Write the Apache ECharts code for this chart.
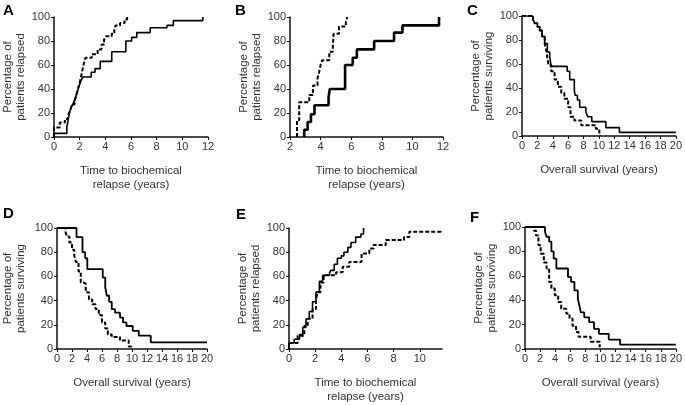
<!DOCTYPE html>
<html>
<head>
<meta charset="utf-8">
<script src="https://cdn.jsdelivr.net/npm/echarts@6/dist/echarts.min.js"></script>
<style>
  html, body { margin: 0; padding: 0; background: #fff; }
  #chart { width: 685px; height: 405px; }
</style>
</head>
<body>
<div id="chart"></div>
<script>
// step curves, [time (years), percent]
var aSolid = [[0,0],[0,3],[1.0,8],[1.1,14],[1.2,20],[1.35,25],[1.5,28],[1.65,32],[1.8,37],[1.95,42],[2.1,47],[2.25,50],
  [2.9,54],[3.2,57],[3.6,63],[4.5,71],[5.6,80],[6.05,83],[6.45,87],[7.5,91],[8.8,93],[9.3,97],[11.6,100]];
var aDashed = [[0,0],[0,8],[0.45,12],[0.85,15],[1.1,18],[1.25,22],[1.4,27],[1.6,30],[1.75,35],[1.85,40],[2.0,45],[2.1,50],
  [2.2,55],[2.3,60],[2.45,66],[2.95,69],[3.4,73],[3.7,77],[3.9,81],[4.05,84],[4.5,86],[4.7,90],[4.8,93],[5.15,95],[5.5,98],[5.7,100]];

var bSolid = [[2.93,0],[2.93,6],[3.15,12.5],[3.37,19],[3.6,26.5],[4.52,33],[4.6,40],[5.6,60],[6.1,66],[6.37,73],
  [7.5,80],[8.8,87],[9.35,93],[11.74,100]];
var bDashed = [[2.46,0],[2.46,14],[2.6,29],[3.26,35],[3.5,43],[3.8,49],[3.9,54],[4.0,60],[4.1,64],[4.57,71],[4.8,76],
  [4.85,86],[5.2,92],[5.65,96],[5.75,100]];

var cSolid = [[0,100],[1.43,97],[1.64,94],[2.0,91],[2.3,88],[2.6,83],[2.95,77],[3.3,70],[3.6,66],[3.8,58],[5.87,54],
  [6.2,47],[6.8,38],[6.9,34],[7.2,30],[7.5,24],[8.3,20],[8.55,16],[9.07,12],[10.9,7],[12.66,3],[20,3]];
var cDashed = [[0,100],[1.43,97],[1.64,94],[2.0,91],[2.3,88],[2.6,83],[2.95,77],[3.2,70],[3.3,65],[3.45,59],[3.8,54],
  [4.23,47],[4.66,41],[5.1,36],[5.5,31],[6.0,24],[6.3,16],[6.8,13],[7.7,9],[9.6,6],[10.05,2],[10.15,0]];

var dSolid = [[0,100],[2.6,92.5],[3.4,80],[3.75,75],[4.04,66],[6.1,59],[6.43,51],[6.65,44],[6.95,39],[7.3,33],[7.74,30],
  [8.4,26],[8.8,22],[9.26,19],[10.1,15],[10.9,11],[12.5,5.5],[20,5.5]];
var dDashed = [[0,100],[1.13,97],[1.3,93],[1.65,88],[2.0,82],[2.3,77],[2.52,72],[2.87,64],[3.17,55],[3.5,54],[3.83,47],
  [4.26,41],[4.7,37],[5.13,33],[5.57,28],[6.0,22],[6.43,17],[6.78,12],[7.3,10],[8.4,7],[9.56,2],[9.9,0]];

var eSolid = [[0,0],[0,5],[0.4,8],[0.8,12],[1.05,18],[1.3,25],[1.55,31],[1.8,39],[2.06,47],[2.32,56],[2.57,61],[3.1,63],
  [3.2,65],[3.46,70],[3.7,75],[4.0,77],[4.2,80],[4.5,84],[4.74,88],[5.1,92.5],[5.5,95],[5.7,100]];
var eDashed = [[0,0],[0,5],[0.66,11],[1.17,19],[1.43,25],[1.8,33],[2.06,41],[2.2,47],[2.4,55],[2.65,61],[3.6,63.5],
  [4.1,68],[4.6,72],[5.55,79],[6.14,83],[6.47,86],[7.4,90],[8.8,92.5],[9.2,97],[11.6,99]];

var fSolid = [[0,100],[2.65,96],[2.86,92],[3.2,88],[3.5,80],[3.8,74],[4.16,66],[5.7,59],[6.1,55],[6.55,48],[7.0,41],
  [7.2,36],[7.4,30],[7.85,26],[8.5,22],[9.15,16.5],[9.8,12.4],[11.1,7.7],[12.6,3.6],[20,3.6]];
var fDashed = [[0,100],[1.2,97],[1.47,93],[1.78,85],[2.08,78],[2.5,71],[2.86,66],[3.2,55],[3.5,49.5],[3.95,44],[4.4,38.5],
  [4.8,33],[5.47,29],[5.9,25],[6.3,19],[6.77,14],[7.1,10],[8.7,6],[9.9,1.4]];

var yTicks = [0, 20, 40, 60, 80, 100];
var relapseTicks = [0, 2, 4, 6, 8, 10, 12];
var relapseTicksB = [2, 4, 6, 8, 10, 12];
var relapseTicksE = [0, 2, 4, 6, 8, 10];
var survivalTicks = [0, 2, 4, 6, 8, 10, 12, 14, 16, 18, 20];

var relapsedName = "Percentage of\npatients relapsed";
var survivingName = "Percentage of\npatients surviving";
var relapseName = "Time to biochemical\nrelapse (years)";
var survivalName = "Overall survival (years)";

var panels = [
  { letter: "A", lx: 3, ly: 3, left: 54, top: 17, width: 154, height: 120, min: 0, max: 12, xt: relapseTicks,
    xName: relapseName, yName: relapsedName, yGap: 26, solid: aSolid, dashed: aDashed, sw: 1.6 },
  { letter: "B", lx: 235, ly: 3, left: 290, top: 17, width: 153, height: 120, min: 2, max: 12, xt: relapseTicksB,
    xName: relapseName, yName: relapsedName, yGap: 27, solid: bSolid, dashed: bDashed, sw: 2.6 },
  { letter: "C", lx: 467, ly: 3, left: 522, top: 16, width: 154, height: 120, min: 0, max: 20, xt: survivalTicks,
    xName: survivalName, yName: survivingName, yGap: 22, solid: cSolid, dashed: cDashed, sw: 1.6 },
  { letter: "D", lx: 3, ly: 206, left: 54, top: 228, width: 153, height: 121, min: 0, max: 20, xt: survivalTicks,
    xName: survivalName, yName: survivingName, yGap: 30, solid: dSolid, dashed: dDashed, sw: 1.8 },
  { letter: "E", lx: 236, ly: 207, left: 289, top: 228, width: 153, height: 121, min: 0, max: 11.7, xt: relapseTicksE,
    xName: relapseName, yName: relapsedName, yGap: 24, solid: eSolid, dashed: eDashed, sw: 1.6 },
  { letter: "F", lx: 470, ly: 210, left: 525, top: 227, width: 152, height: 122, min: 0, max: 20, xt: survivalTicks,
    xName: survivalName, yName: survivingName, yGap: 26, solid: fSolid, dashed: fDashed, sw: 1.8 }
];

var font = "Liberation Sans, Arial, Helvetica, sans-serif";
var grids = [], xAxes = [], yAxes = [], series = [], letters = [];

panels.forEach(function (p, i) {
  grids.push({ left: p.left, top: p.top, width: p.width, height: p.height, containLabel: false });
  xAxes.push({
    type: "value", gridIndex: i, min: p.min, max: p.max, interval: 2,
    name: p.xName, nameLocation: "middle", nameGap: 27,
    nameTextStyle: { color: "#333", fontSize: 11.5, fontFamily: font, lineHeight: 14 },
    axisLine: { show: true, onZero: false, lineStyle: { color: "#111", width: 1.5 } },
    axisTick: { show: true, length: 3, customValues: p.xt, lineStyle: { color: "#111", width: 1 } },
    axisLabel: { customValues: p.xt, margin: 4, color: "#333", fontSize: 11, fontFamily: font },
    splitLine: { show: false }
  });
  yAxes.push({
    type: "value", gridIndex: i, min: 0, max: 100, interval: 20,
    name: p.yName, nameLocation: "middle", nameGap: p.yGap,
    nameTextStyle: { color: "#333", fontSize: 11.5, fontFamily: font, lineHeight: 13 },
    axisLine: { show: true, lineStyle: { color: "#111", width: 1.5 } },
    axisTick: { show: true, length: 3, lineStyle: { color: "#111", width: 1 } },
    axisLabel: { margin: 4, color: "#333", fontSize: 11, fontFamily: font },
    splitLine: { show: false }
  });
  series.push({
    type: "line", xAxisIndex: i, yAxisIndex: i, step: "end", data: p.solid,
    showSymbol: false, symbol: "none", silent: true, animation: false,
    lineStyle: { color: "#000", width: p.sw, type: "solid" }
  });
  series.push({
    type: "line", xAxisIndex: i, yAxisIndex: i, step: "end", data: p.dashed,
    showSymbol: false, symbol: "none", silent: true, animation: false,
    lineStyle: { color: "#000", width: 2, type: [4, 2] }
  });
  letters.push({
    type: "text", left: p.lx, top: p.ly,
    style: { text: p.letter, fill: "#000", font: "bold 15px " + font }
  });
});

var myChart = echarts.init(document.getElementById("chart"), null, { renderer: "canvas" });
myChart.setOption({
  backgroundColor: "#fff",
  animation: false,
  grid: grids,
  xAxis: xAxes,
  yAxis: yAxes,
  series: series,
  graphic: letters
});
</script>
</body>
</html>
